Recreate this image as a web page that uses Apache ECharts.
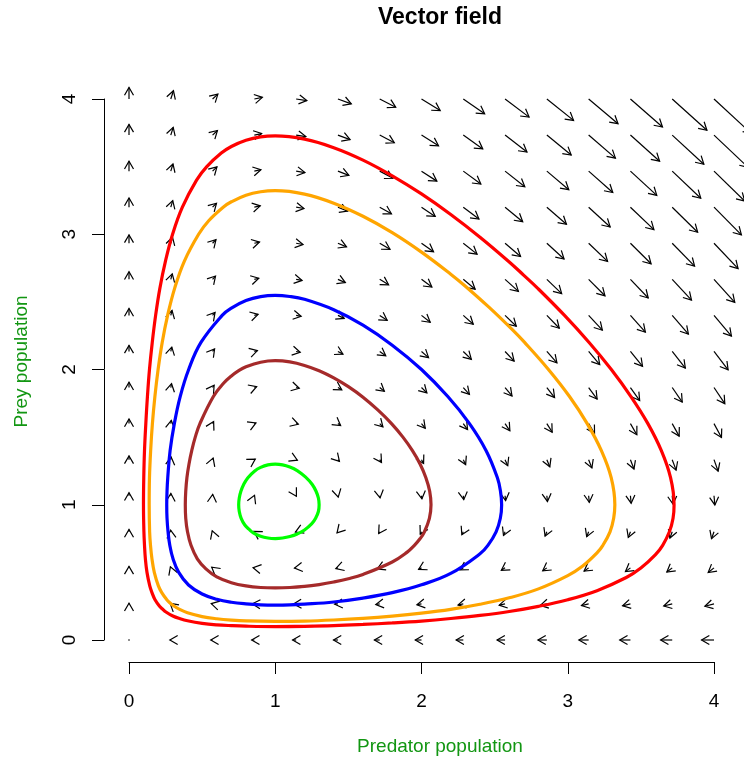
<!DOCTYPE html>
<html>
<head>
<meta charset="utf-8">
<script src="https://cdn.jsdelivr.net/npm/echarts@6/dist/echarts.min.js"></script>
<style>html,body{margin:0;padding:0;background:#fff;}#chart{width:744px;height:761px;}</style>
</head>
<body>
<div id="chart"></div>
<script>
// ---- data ----
const xTicks = [0, 1, 2, 3, 4];
const yTicks = [0, 1, 2, 3, 4];
const gridX = [0, 0.2857, 0.5714, 0.8571, 1.1429, 1.4286, 1.7143, 2.0, 2.2857, 2.5714, 2.8571, 3.1429, 3.4286, 3.7143, 4.0];
const gridY = [0, 0.2667, 0.5333, 0.8, 1.0667, 1.3333, 1.6, 1.8667, 2.1333, 2.4, 2.6667, 2.9333, 3.2, 3.4667, 3.7333, 4.0];
// horizontal component of each arrow (rows = gridY, columns = gridX)
const flowU = [
 [0,-0.29,-0.57,-0.86,-1.14,-1.43,-1.71,-2,-2.29,-2.57,-2.86,-3.14,-3.43,-3.71,-4],
 [0,-0.21,-0.42,-0.63,-0.84,-1.05,-1.26,-1.47,-1.68,-1.89,-2.10,-2.30,-2.51,-2.72,-2.93],
 [0,-0.13,-0.27,-0.40,-0.53,-0.67,-0.80,-0.93,-1.07,-1.20,-1.33,-1.47,-1.60,-1.73,-1.87],
 [0,-0.06,-0.11,-0.17,-0.23,-0.29,-0.34,-0.40,-0.46,-0.51,-0.57,-0.63,-0.69,-0.74,-0.80],
 [0,0.02,0.04,0.06,0.08,0.10,0.11,0.13,0.15,0.17,0.19,0.21,0.23,0.25,0.27],
 [0,0.10,0.19,0.29,0.38,0.48,0.57,0.67,0.76,0.86,0.95,1.05,1.14,1.24,1.33],
 [0,0.17,0.34,0.51,0.69,0.86,1.03,1.20,1.37,1.54,1.71,1.89,2.06,2.23,2.40],
 [0,0.25,0.50,0.74,0.99,1.24,1.49,1.73,1.98,2.23,2.48,2.72,2.97,3.22,3.47],
 [0,0.32,0.65,0.97,1.30,1.62,1.94,2.27,2.59,2.91,3.24,3.56,3.89,4.21,4.53],
 [0,0.40,0.80,1.20,1.60,2.00,2.40,2.80,3.20,3.60,4.00,4.40,4.80,5.20,5.60],
 [0,0.48,0.95,1.43,1.90,2.38,2.86,3.33,3.81,4.29,4.76,5.24,5.71,6.19,6.67],
 [0,0.55,1.10,1.66,2.21,2.76,3.31,3.87,4.42,4.97,5.52,6.08,6.63,7.18,7.73],
 [0,0.63,1.26,1.89,2.51,3.14,3.77,4.40,5.03,5.66,6.29,6.91,7.54,8.17,8.80],
 [0,0.70,1.41,2.11,2.82,3.52,4.23,4.93,5.64,6.34,7.05,7.75,8.46,9.16,9.87],
 [0,0.78,1.56,2.34,3.12,3.90,4.69,5.47,6.25,7.03,7.81,8.59,9.37,10.15,10.93],
 [0,0.86,1.71,2.57,3.43,4.29,5.14,6.00,6.86,7.71,8.57,9.43,10.29,11.14,12.00]
];
// vertical component of each arrow
const flowV = [
 [0,0,0,0,0,0,0,0,0,0,0,0,0,0,0],
 [0.27,0.19,0.11,0.04,-0.04,-0.11,-0.19,-0.27,-0.34,-0.42,-0.50,-0.57,-0.65,-0.72,-0.80],
 [0.53,0.38,0.23,0.08,-0.08,-0.23,-0.38,-0.53,-0.69,-0.84,-0.99,-1.14,-1.30,-1.45,-1.60],
 [0.80,0.57,0.34,0.11,-0.11,-0.34,-0.57,-0.80,-1.03,-1.26,-1.49,-1.71,-1.94,-2.17,-2.40],
 [1.07,0.76,0.46,0.15,-0.15,-0.46,-0.76,-1.07,-1.37,-1.68,-1.98,-2.29,-2.59,-2.90,-3.20],
 [1.33,0.95,0.57,0.19,-0.19,-0.57,-0.95,-1.33,-1.71,-2.10,-2.48,-2.86,-3.24,-3.62,-4.00],
 [1.60,1.14,0.69,0.23,-0.23,-0.69,-1.14,-1.60,-2.06,-2.51,-2.97,-3.43,-3.89,-4.34,-4.80],
 [1.87,1.33,0.80,0.27,-0.27,-0.80,-1.33,-1.87,-2.40,-2.93,-3.47,-4.00,-4.53,-5.07,-5.60],
 [2.13,1.52,0.91,0.30,-0.30,-0.91,-1.52,-2.13,-2.74,-3.35,-3.96,-4.57,-5.18,-5.79,-6.40],
 [2.40,1.71,1.03,0.34,-0.34,-1.03,-1.71,-2.40,-3.09,-3.77,-4.46,-5.14,-5.83,-6.51,-7.20],
 [2.67,1.90,1.14,0.38,-0.38,-1.14,-1.90,-2.67,-3.43,-4.19,-4.95,-5.71,-6.48,-7.24,-8.00],
 [2.93,2.10,1.26,0.42,-0.42,-1.26,-2.10,-2.93,-3.77,-4.61,-5.45,-6.29,-7.12,-7.96,-8.80],
 [3.20,2.29,1.37,0.46,-0.46,-1.37,-2.29,-3.20,-4.11,-5.03,-5.94,-6.86,-7.77,-8.69,-9.60],
 [3.47,2.48,1.49,0.50,-0.50,-1.49,-2.48,-3.47,-4.46,-5.45,-6.44,-7.43,-8.42,-9.41,-10.40],
 [3.73,2.67,1.60,0.53,-0.53,-1.60,-2.67,-3.73,-4.80,-5.87,-6.93,-8.00,-9.07,-10.13,-11.20],
 [4.00,2.86,1.71,0.57,-0.57,-1.71,-2.86,-4.00,-5.14,-6.29,-7.43,-8.57,-9.71,-10.86,-12.00]
];
const arrowStep = 0.0213; // time step used to draw each arrow

const orbitRed = [[1.0,0.099],[1.2,0.101],[1.4,0.106],[1.6,0.115],[1.8,0.126],[2.0,0.140],[2.2,0.159],[2.4,0.182],[2.6,0.211],[2.8,0.249],[3.0,0.298],[3.2,0.365],[3.4,0.462],[3.5,0.532],[3.6,0.631],
 [3.649,0.7],[3.695,0.8],[3.720,0.9],[3.727,1.0],[3.703,1.2],[3.640,1.4],[3.548,1.6],[3.432,1.8],[3.298,2.0],[3.146,2.2],[2.978,2.4],[2.795,2.6],[2.698,2.698],
 [2.6,2.795],[2.4,2.978],[2.2,3.146],[2.0,3.298],[1.8,3.432],[1.6,3.548],[1.4,3.640],[1.2,3.703],[1.0,3.727],[0.9,3.720],[0.8,3.695],[0.7,3.649],[0.631,3.6],
 [0.532,3.5],[0.462,3.4],[0.365,3.2],[0.298,3.0],[0.249,2.8],[0.211,2.6],[0.182,2.4],[0.159,2.2],[0.140,2.0],[0.126,1.8],[0.115,1.6],[0.106,1.4],[0.101,1.2],[0.099,1.0],[0.102,0.8],[0.106,0.7],[0.112,0.6],[0.123,0.5],[0.142,0.4],[0.157,0.35],[0.177,0.3],[0.209,0.25],[0.229,0.229],
 [0.25,0.209],[0.3,0.177],[0.35,0.157],[0.4,0.142],[0.5,0.123],[0.6,0.112],[0.7,0.106],[0.8,0.102],[1.0,0.099],[1.2,0.101],[1.4,0.106]];
const orbitOrange = [[1.0,0.138],[1.2,0.140],[1.4,0.148],[1.6,0.160],[1.8,0.177],[2.0,0.199],[2.2,0.227],[2.4,0.264],[2.6,0.312],[2.8,0.378],[3.0,0.476],[3.1,0.545],[3.2,0.644],
 [3.240,0.7],[3.289,0.8],[3.314,0.9],[3.322,1.0],[3.297,1.2],[3.230,1.4],[3.133,1.6],[3.012,1.8],[2.868,2.0],[2.705,2.2],[2.616,2.3],[2.461,2.461],
 [2.3,2.616],[2.2,2.705],[2.0,2.868],[1.8,3.012],[1.6,3.133],[1.4,3.230],[1.2,3.297],[1.0,3.322],[0.9,3.314],[0.8,3.289],[0.7,3.240],[0.644,3.2],
 [0.545,3.1],[0.476,3.0],[0.378,2.8],[0.312,2.6],[0.264,2.4],[0.227,2.2],[0.199,2.0],[0.177,1.8],[0.160,1.6],[0.148,1.4],[0.140,1.2],[0.138,1.0],[0.141,0.8],[0.147,0.7],[0.157,0.6],[0.173,0.5],[0.201,0.4],[0.224,0.35],[0.257,0.3],[0.277,0.277],
 [0.3,0.257],[0.35,0.224],[0.4,0.201],[0.5,0.173],[0.6,0.157],[0.7,0.147],[0.8,0.141],[1.0,0.138],[1.2,0.140],[1.4,0.148]];
const orbitBlue = [[1.0,0.258],[1.1,0.260],[1.2,0.265],[1.4,0.281],[1.6,0.310],[1.8,0.350],[2.0,0.408],[2.2,0.492],[2.4,0.637],
 [2.454,0.7],[2.510,0.8],[2.539,0.9],[2.548,1.0],[2.540,1.1],[2.519,1.2],[2.442,1.4],[2.328,1.6],[2.180,1.8],[2.0,2.0],
 [1.8,2.180],[1.6,2.328],[1.4,2.442],[1.2,2.519],[1.1,2.540],[1.0,2.548],[0.9,2.539],[0.8,2.510],[0.7,2.454],[0.637,2.4],
 [0.492,2.2],[0.408,2.0],[0.350,1.8],[0.310,1.6],[0.281,1.4],[0.265,1.2],[0.260,1.1],[0.258,1.0],[0.260,0.9],[0.267,0.8],[0.279,0.7],[0.301,0.6],[0.340,0.5],[0.407,0.407],
 [0.5,0.340],[0.6,0.301],[0.7,0.279],[0.8,0.267],[0.9,0.260],[1.0,0.258],[1.1,0.260],[1.2,0.265]];
const orbitBrown = [[1.0,0.385],[1.1,0.388],[1.2,0.396],[1.3,0.410],[1.4,0.429],[1.5,0.453],[1.6,0.485],[1.8,0.577],[1.9,0.648],[1.95,0.698],
 [1.991,0.75],[2.020,0.8],[2.054,0.9],[2.065,1.0],[2.056,1.1],[2.030,1.2],[1.991,1.3],[1.938,1.4],[1.873,1.5],[1.795,1.6],[1.701,1.701],
 [1.6,1.795],[1.5,1.873],[1.4,1.938],[1.3,1.991],[1.2,2.030],[1.1,2.056],[1.0,2.065],[0.9,2.054],[0.8,2.020],[0.75,1.991],[0.698,1.95],
 [0.648,1.9],[0.577,1.8],[0.485,1.6],[0.453,1.5],[0.429,1.4],[0.410,1.3],[0.396,1.2],[0.388,1.1],[0.385,1.0],[0.388,0.9],[0.400,0.8],[0.424,0.7],[0.467,0.6],[0.526,0.526],
 [0.6,0.467],[0.7,0.424],[0.8,0.400],[0.9,0.388],[1.0,0.385],[1.1,0.388],[1.2,0.396]];
const orbitGreen = [[1.0,0.75],[1.05,0.754],[1.1,0.765],[1.15,0.784],[1.2,0.813],[1.25,0.86],
 [1.276,0.9],[1.295,0.95],[1.3,1.0],[1.295,1.05],[1.279,1.1],[1.253,1.15],[1.206,1.206],
 [1.15,1.253],[1.1,1.279],[1.05,1.295],[1.0,1.3],[0.95,1.295],[0.9,1.276],[0.86,1.25],
 [0.813,1.2],[0.784,1.15],[0.765,1.1],[0.754,1.05],[0.75,1.0],[0.754,0.95],[0.767,0.9],[0.792,0.85],[0.82,0.82],
 [0.85,0.792],[0.9,0.767],[0.95,0.754],[1.0,0.75],[1.05,0.754],[1.1,0.765]];

const orbitNames = ['red', 'orange', 'blue', 'brown', 'green'];
const orbitData = [orbitRed, orbitOrange, orbitBlue, orbitBrown, orbitGreen];
const orbitColors = ['#FF0000', '#FFA500', '#0000FF', '#A52A2A', '#00FF00'];

// ---- build ----
const arrowData = [];
for (let j = 0; j < gridY.length; j++) {
  for (let k = 0; k < gridX.length; k++) {
    arrowData.push([gridX[k], gridY[j], flowU[j][k], flowV[j][k]]);
  }
}

const HEAD = 9, ANG = Math.PI / 6;
function renderArrow(params, api) {
  const x = api.value(0), y = api.value(1), u = api.value(2), v = api.value(3);
  const p0 = api.coord([x, y]);
  const p1 = api.coord([x + arrowStep * u, y + arrowStep * v]);
  const dx = p1[0] - p0[0], dy = p1[1] - p0[1];
  const style = { stroke: '#000', lineWidth: 1.2, fill: null };
  if (Math.abs(dx) < 1e-6 && Math.abs(dy) < 1e-6) {
    return { type: 'circle', shape: { cx: p0[0], cy: p0[1], r: 0.8 }, style: { fill: '#000' } };
  }
  const a = Math.atan2(dy, dx);
  const b1 = [p1[0] - HEAD * Math.cos(a - ANG), p1[1] - HEAD * Math.sin(a - ANG)];
  const b2 = [p1[0] - HEAD * Math.cos(a + ANG), p1[1] - HEAD * Math.sin(a + ANG)];
  return {
    type: 'group',
    children: [
      { type: 'line', shape: { x1: p0[0], y1: p0[1], x2: p1[0], y2: p1[1] }, style: style },
      { type: 'polyline', shape: { points: [b1, p1, b2] }, style: style }
    ]
  };
}

const series = [{
  type: 'custom',
  name: 'field',
  renderItem: renderArrow,
  data: arrowData,
  encode: { x: 0, y: 1 },
  clip: false,
  silent: true,
  z: 2
}];
orbitData.forEach((d, i) => {
  series.push({
    type: 'line',
    name: orbitNames[i],
    data: d,
    smooth: 0.4,
    showSymbol: false,
    symbol: 'none',
    clip: false,
    lineStyle: { color: orbitColors[i], width: 3.2 },
    z: 3,
    silent: true
  });
});

const FONT = 'Liberation Sans, Arial, Helvetica, sans-serif';
const GREEN = '#129612';
const chart = echarts.init(document.getElementById('chart'), null, { renderer: 'canvas' });
chart.setOption({
  animation: false,
  backgroundColor: '#fff',
  graphic: [{
    type: 'text', x: 440, y: 18,
    style: { text: 'Vector field', fill: '#000', font: 'bold 23px ' + FONT, textAlign: 'center', textVerticalAlign: 'middle' }
  }],
  grid: { left: 129, right: 30, top: 99, bottom: 120, containLabel: false },
  xAxis: {
    type: 'value', min: xTicks[0], max: xTicks[xTicks.length - 1], interval: 1,
    offset: 22,
    axisLine: { show: true, onZero: false, lineStyle: { color: '#000', width: 1 } },
    axisTick: { show: true, inside: false, length: 12, lineStyle: { color: '#000', width: 1 } },
    axisLabel: { color: '#000', fontSize: 19, fontFamily: FONT, margin: 30, formatter: v => String(v) },
    splitLine: { show: false },
    name: 'Predator population', nameLocation: 'middle', nameGap: 75,
    nameTextStyle: { color: GREEN, fontSize: 19, fontFamily: FONT, padding: [0, 0, 0, 37] }
  },
  yAxis: {
    type: 'value', min: yTicks[0], max: yTicks[yTicks.length - 1], interval: 1,
    offset: 25,
    axisLine: { show: true, onZero: false, lineStyle: { color: '#000', width: 1 } },
    axisTick: { show: true, inside: false, length: 12, lineStyle: { color: '#000', width: 1 } },
    axisLabel: { color: '#000', fontSize: 19, fontFamily: FONT, margin: 25, rotate: 90, formatter: v => String(v) },
    splitLine: { show: false },
    name: 'Prey population', nameLocation: 'middle', nameGap: 73, nameRotate: 90,
    nameTextStyle: { color: GREEN, fontSize: 19, fontFamily: FONT, padding: [0, 0, 0, 16] }
  },
  series: series
});
</script>
</body>
</html>
